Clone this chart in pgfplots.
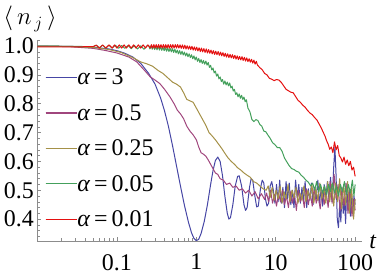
\documentclass[border=0pt]{standalone}
\usepackage{fontspec}
\setmainfont{Liberation Serif}
\usepackage{pgfplots}
\usepackage{pgfplotstable}
\pgfplotsset{compat=1.18}
\definecolor{cblue}{RGB}{70,70,165}
\definecolor{cpurp}{RGB}{160,70,125}
\definecolor{colive}{RGB}{165,145,72}
\definecolor{cgreen}{RGB}{68,160,92}
\definecolor{cred}{RGB}{228,16,16}
\newcommand{\bigf}{\fontsize{24}{28}\selectfont}

% columns: lx = log10(t), v = <n_j>
\pgfplotstableread{
lx v
-2.00 1.000
-1.60 0.999
-1.30 0.996
-1.10 0.990
-1.00 0.984
-0.90 0.975
-0.80 0.962
-0.70 0.940
-0.60 0.905
-0.52 0.868
-0.45 0.820
-0.40 0.775
-0.35 0.720
-0.30 0.655
-0.25 0.585
-0.20 0.515
-0.15 0.448
-0.10 0.390
-0.06 0.352
-0.03 0.333
0.00 0.325
0.03 0.330
0.06 0.350
0.10 0.392
0.14 0.450
0.18 0.520
0.21 0.568
0.24 0.603
0.27 0.615
0.30 0.600
0.33 0.550
0.36 0.478
0.39 0.420
0.41 0.400
0.43 0.405
0.46 0.450
0.49 0.515
0.52 0.548
0.54 0.550
0.57 0.515
0.60 0.450
0.62 0.430
0.64 0.440
0.67 0.510
0.69 0.540
0.71 0.535
0.74 0.475
0.76 0.442
0.78 0.445
0.81 0.510
0.83 0.535
0.85 0.525
0.87 0.470
0.89 0.445
0.91 0.455
0.93 0.515
0.95 0.530
0.97 0.500
0.99 0.455
1.01 0.520
1.03 0.460
1.05 0.535
1.07 0.455
1.09 0.510
1.11 0.440
1.13 0.530
1.15 0.470
1.17 0.525
1.19 0.450
1.21 0.500
1.23 0.440
1.25 0.535
1.27 0.475
1.29 0.520
1.31 0.455
1.33 0.510
1.35 0.460
1.37 0.530
1.39 0.440
1.41 0.505
1.43 0.465
1.45 0.525
1.47 0.450
1.49 0.510
1.51 0.470
1.53 0.535
1.55 0.455
1.57 0.500
1.59 0.445
1.61 0.520
1.63 0.465
1.65 0.530
1.67 0.470
1.69 0.545
1.71 0.460
1.73 0.580
1.745 0.650
1.76 0.550
1.775 0.400
1.79 0.370
1.805 0.450
1.82 0.390
1.835 0.500
1.85 0.420
1.865 0.470
1.88 0.385
1.895 0.520
1.91 0.430
1.925 0.500
1.94 0.410
1.955 0.490
1.97 0.420
1.985 0.480
2.00 0.450
}\tblue

\pgfplotstableread{
lx v
-2.00 1.000
-1.60 0.998
-1.30 0.992
-1.15 0.985
-1.00 0.976
-0.85 0.962
-0.75 0.945
-0.65 0.915
-0.58 0.893
-0.52 0.882
-0.46 0.870
-0.40 0.850
-0.33 0.823
-0.28 0.800
-0.24 0.778
-0.20 0.765
-0.16 0.748
-0.12 0.722
-0.08 0.705
-0.04 0.692
0.00 0.675
0.03 0.650
0.06 0.630
0.09 0.625
0.12 0.618
0.15 0.605
0.18 0.590
0.21 0.575
0.24 0.560
0.27 0.555
0.30 0.540
0.34 0.535
0.38 0.520
0.42 0.525
0.46 0.510
0.50 0.515
0.54 0.500
0.58 0.505
0.62 0.490
0.66 0.500
0.70 0.480
0.74 0.495
0.78 0.470
0.82 0.488
0.86 0.468
0.885 0.490
0.91 0.460
0.935 0.500
0.96 0.455
0.985 0.485
1.01 0.445
1.035 0.490
1.06 0.460
1.085 0.500
1.11 0.450
1.135 0.480
1.16 0.440
1.185 0.495
1.21 0.455
1.235 0.490
1.26 0.430
1.285 0.500
1.31 0.460
1.335 0.485
1.36 0.440
1.385 0.505
1.41 0.450
1.435 0.490
1.46 0.445
1.485 0.510
1.51 0.455
1.535 0.480
1.56 0.435
1.585 0.500
1.61 0.450
1.635 0.495
1.66 0.440
1.685 0.530
1.71 0.455
1.735 0.555
1.76 0.470
1.785 0.520
1.81 0.430
1.835 0.510
1.86 0.445
1.885 0.525
1.91 0.420
1.935 0.500
1.96 0.410
1.985 0.470
2.00 0.430
}\tpurp

\pgfplotstableread{
lx v
-2.00 1.000
-1.60 0.999
-1.30 0.995
-1.10 0.988
-0.95 0.978
-0.80 0.960
-0.70 0.945
-0.62 0.938
-0.55 0.930
-0.48 0.915
-0.42 0.905
-0.36 0.890
-0.30 0.875
-0.25 0.868
-0.20 0.858
-0.16 0.838
-0.12 0.815
-0.08 0.810
-0.04 0.805
0.00 0.785
0.04 0.765
0.08 0.745
0.12 0.725
0.16 0.700
0.20 0.688
0.24 0.675
0.28 0.660
0.32 0.645
0.36 0.628
0.40 0.612
0.44 0.600
0.48 0.590
0.52 0.578
0.56 0.570
0.60 0.560
0.64 0.552
0.68 0.545
0.72 0.530
0.76 0.525
0.80 0.515
0.84 0.505
0.88 0.500
0.905 0.515
0.93 0.475
0.955 0.510
0.98 0.465
1.005 0.500
1.03 0.470
1.055 0.515
1.08 0.455
1.105 0.495
1.13 0.470
1.155 0.520
1.18 0.460
1.205 0.500
1.23 0.475
1.255 0.510
1.28 0.455
1.305 0.490
1.33 0.465
1.355 0.515
1.38 0.460
1.405 0.500
1.43 0.470
1.455 0.520
1.48 0.455
1.505 0.505
1.53 0.465
1.555 0.525
1.58 0.470
1.605 0.510
1.63 0.455
1.655 0.530
1.68 0.460
1.705 0.520
1.73 0.445
1.755 0.525
1.78 0.460
1.805 0.540
1.83 0.435
1.855 0.520
1.88 0.450
1.905 0.530
1.93 0.420
1.955 0.510
1.98 0.400
2.00 0.470
}\tolive

\pgfplotstableread{
lx v
-2.00 1.000
-1.60 0.999
-1.30 0.998
-1.26 1.003
-1.22 0.994
-1.18 1.003
-1.14 0.993
-1.10 1.003
-1.06 0.993
-1.02 1.003
-0.98 0.992
-0.94 1.002
-0.90 0.992
-0.86 1.002
-0.82 0.991
-0.78 1.002
-0.74 0.990
-0.70 1.001
-0.66 0.989
-0.62 1.001
-0.600 1.002
-0.585 0.990
-0.570 1.001
-0.555 0.989
-0.540 1.000
-0.525 0.988
-0.510 0.999
-0.495 0.987
-0.480 0.999
-0.465 0.986
-0.450 0.998
-0.435 0.985
-0.420 0.996
-0.405 0.984
-0.390 0.995
-0.375 0.982
-0.360 0.994
-0.345 0.981
-0.330 0.992
-0.315 0.980
-0.300 0.991
-0.285 0.978
-0.270 0.989
-0.255 0.976
-0.240 0.986
-0.225 0.973
-0.210 0.984
-0.195 0.971
-0.180 0.982
-0.165 0.969
-0.150 0.979
-0.135 0.966
-0.120 0.976
-0.105 0.963
-0.090 0.973
-0.075 0.960
-0.060 0.970
-0.045 0.956
-0.030 0.966
-0.015 0.952
0.000 0.962
0.015 0.947
0.030 0.957
0.045 0.943
0.060 0.953
0.075 0.940
0.090 0.950
0.105 0.937
0.120 0.948
0.135 0.934
0.150 0.943
0.165 0.926
0.180 0.933
0.195 0.917
0.210 0.924
0.225 0.907
0.240 0.913
0.255 0.896
0.270 0.903
0.285 0.886
0.300 0.893
0.315 0.877
0.330 0.884
0.345 0.868
0.360 0.879
0.375 0.865
0.390 0.875
0.405 0.862
0.420 0.872
0.435 0.855
0.450 0.861
0.465 0.844
0.480 0.850
0.495 0.832
0.510 0.838
0.525 0.824
0.540 0.834
0.555 0.819
0.570 0.829
0.585 0.815
0.600 0.823
0.615 0.807
0.630 0.814
0.65 0.785
0.675 0.772
0.70 0.745
0.725 0.738
0.75 0.745
0.775 0.742
0.80 0.728
0.825 0.722
0.85 0.705
0.875 0.703
0.90 0.692
0.93 0.680
0.96 0.665
0.99 0.658
1.02 0.648
1.05 0.648
1.08 0.635
1.11 0.612
1.14 0.598
1.17 0.585
1.20 0.575
1.23 0.572
1.26 0.566
1.29 0.563
1.32 0.552
1.35 0.545
1.38 0.535
1.41 0.528
1.44 0.515
1.465 0.525
1.49 0.500
1.515 0.530
1.54 0.495
1.565 0.520
1.59 0.490
1.615 0.515
1.64 0.485
1.665 0.520
1.69 0.495
1.715 0.525
1.74 0.490
1.765 0.515
1.79 0.480
1.815 0.520
1.84 0.495
1.865 0.530
1.89 0.485
1.915 0.520
1.94 0.490
1.965 0.535
1.985 0.480
2.00 0.520
}\tgreen

\pgfplotstableread{
lx v
-2.00 0.997
-1.60 0.997
-1.30 0.998
-1.26 1.003
-1.22 0.993
-1.18 1.004
-1.14 0.993
-1.10 1.004
-1.06 0.993
-1.03 1.004
-1.00 0.993
-0.97 1.004
-0.94 0.993
-0.91 1.004
-0.88 0.993
-0.85 1.004
-0.82 0.993
-0.79 1.004
-0.76 0.993
-0.73 1.004
-0.70 0.993
-0.67 1.004
-0.64 0.993
-0.61 1.004
-0.58 0.993
-0.565 1.005
-0.55 0.993
-0.535 1.005
-0.52 0.993
-0.505 1.005
-0.49 0.993
-0.475 1.005
-0.46 0.993
-0.445 1.005
-0.43 0.993
-0.415 1.005
-0.40 0.993
-0.385 1.005
-0.37 0.993
-0.355 1.005
-0.34 0.993
-0.325 1.005
-0.31 0.993
-0.295 1.005
-0.28 0.993
-0.265 1.005
-0.25 0.993
-0.235 1.005
-0.22 0.993
-0.205 1.004
-0.19 0.992
-0.175 1.004
-0.16 0.991
-0.145 1.003
-0.13 0.990
-0.115 1.001
-0.10 0.989
-0.085 1.000
-0.07 0.988
-0.055 0.999
-0.04 0.986
-0.025 0.997
-0.01 0.985
0.005 0.996
0.02 0.983
0.035 0.994
0.05 0.981
0.065 0.993
0.08 0.980
0.095 0.991
0.11 0.978
0.125 0.990
0.14 0.976
0.155 0.988
0.17 0.975
0.185 0.986
0.20 0.973
0.215 0.984
0.23 0.971
0.245 0.982
0.26 0.970
0.275 0.981
0.29 0.968
0.305 0.979
0.32 0.966
0.335 0.977
0.35 0.964
0.365 0.975
0.38 0.962
0.395 0.973
0.41 0.960
0.425 0.971
0.44 0.959
0.455 0.970
0.47 0.957
0.485 0.968
0.50 0.955
0.515 0.966
0.53 0.953
0.545 0.964
0.56 0.952
0.575 0.963
0.59 0.950
0.605 0.961
0.62 0.948
0.635 0.959
0.65 0.946
0.665 0.956
0.68 0.944
0.695 0.954
0.71 0.941
0.725 0.951
0.74 0.937
0.755 0.947
0.77 0.934
0.80 0.925
0.83 0.918
0.86 0.905
0.89 0.900
0.92 0.888
0.95 0.885
0.98 0.880
1.01 0.884
1.04 0.882
1.07 0.874
1.10 0.862
1.13 0.850
1.16 0.845
1.19 0.840
1.22 0.838
1.25 0.825
1.28 0.812
1.31 0.805
1.34 0.795
1.37 0.788
1.40 0.777
1.43 0.768
1.46 0.762
1.49 0.752
1.52 0.743
1.55 0.728
1.58 0.712
1.60 0.700
1.62 0.688
1.64 0.672
1.66 0.660
1.68 0.642
1.70 0.650
1.72 0.630
1.74 0.668
1.76 0.640
1.78 0.655
1.80 0.620
1.82 0.612
1.84 0.598
1.86 0.615
1.88 0.590
1.90 0.605
1.92 0.585
1.94 0.600
1.96 0.570
1.98 0.580
2.00 0.548
}\tred

\begin{document}
\begin{tikzpicture}
\begin{axis}[
  scale only axis, width=324.5bp, height=201bp,
  xmode=log, xmin=0.01, xmax=122, ymin=0.324, ymax=1.021,
  axis lines=left, axis line style={-, color=black!45, line width=0.5bp},
  tick align=inside, major tick length=4bp, minor tick length=2.5bp,
  every tick/.style={black!45, line width=0.5bp},
  xtick={0.1,1,10,100}, xticklabels={0.1,1,10,100},
  minor xtick={0.02,0.03,0.04,0.05,0.06,0.07,0.08,0.09,0.2,0.3,0.4,0.5,0.6,0.7,0.8,0.9,2,3,4,5,6,7,8,9,20,30,40,50,60,70,80,90},
  ytick={0.4,0.5,0.6,0.7,0.8,0.9,1.0}, yticklabels={0.4,0.5,0.6,0.7,0.8,0.9,1.0},
  minor ytick={0.34,0.36,0.38,0.42,0.44,0.46,0.48,0.52,0.54,0.56,0.58,0.62,0.64,0.66,0.68,0.72,0.74,0.76,0.78,0.82,0.84,0.86,0.88,0.92,0.94,0.96,0.98,1.02},
  tick label style={font=\bigf, black},
  yticklabel style={inner sep=0pt, xshift=-3.5bp},
  xticklabel style={inner sep=0pt, yshift=-13bp},
  ylabel={$\langle\, n_{\,j}\,\rangle$},
  every axis y label/.style={at={(rel axis cs:0,1)}, anchor=center, xshift=-7.5bp, yshift=21bp, font=\bigf},
  xlabel={\textit{t}},
  every axis x label/.style={at={(rel axis cs:1,0)}, anchor=center, inner sep=0pt, xshift=11bp, yshift=-1bp, font=\bigf},
  legend style={at={(rel axis cs:0,1)}, anchor=north west, xshift=7.5bp, yshift=-29bp,
    draw=none, fill=none, inner sep=0pt, outer sep=0pt, row sep=18bp, column sep=0pt,
    nodes={inner sep=0pt},
    font=\bigf},
  legend cell align=left,
  legend image code/.code={\draw (0bp,0bp) -- (22bp,0bp); \path (0bp,0bp) -- (31bp,0bp);},
  every axis plot/.append style={line width=1bp, line join=round},
]
\coordinate (o) at (rel axis cs:0,0);
\addplot[color=cblue, forget plot] table[x expr={10^(\thisrow{lx})}, y=v] {\tblue};
\addplot[color=cpurp, forget plot] table[x expr={10^(\thisrow{lx})}, y=v] {\tpurp};
\addplot[color=colive, forget plot] table[x expr={10^(\thisrow{lx})}, y=v] {\tolive};
\addplot[color=cgreen, forget plot] table[x expr={10^(\thisrow{lx})}, y=v] {\tgreen};
\addplot[color=cred, forget plot] table[x expr={10^(\thisrow{lx})}, y=v] {\tred};
\addlegendimage{draw=cblue, line width=1.3bp}
\addlegendentry{\textit{α}\,=\,3}
\addlegendimage{draw=cpurp, line width=1.3bp}
\addlegendentry{\textit{α}\,=\,0.5}
\addlegendimage{draw=colive, line width=1.3bp}
\addlegendentry{\textit{α}\,=\,0.25}
\addlegendimage{draw=cgreen, line width=1.3bp}
\addlegendentry{\textit{α}\,=\,0.05}
\addlegendimage{draw=cred, line width=1.3bp}
\addlegendentry{\textit{α}\,=\,0.01}
\end{axis}
\pgfresetboundingbox
\path (o) ++(-37.5bp,-37bp) rectangle ++(382bp,278bp);
\end{tikzpicture}
\end{document}
